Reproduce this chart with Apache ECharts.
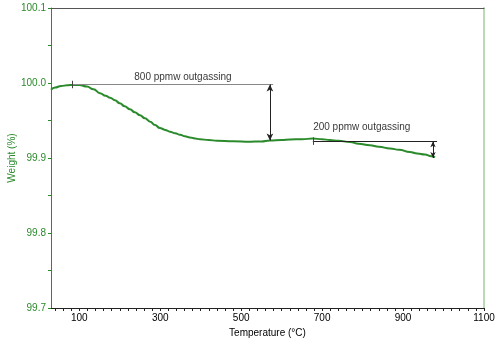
<!DOCTYPE html>
<html>
<head>
<meta charset="utf-8">
<script src="https://cdn.jsdelivr.net/npm/echarts@6/dist/echarts.min.js"></script>
<style>
html,body{margin:0;padding:0;background:#fff;}
#chart{width:500px;height:342px;}
</style>
</head>
<body>
<div id="chart"></div>
<script>
// Temperature (°C) and weight (%)
const temperatures = [30,40,55,70,84,100,119,135,151,165,176,188,200,212,225,237,250,262,275,287,299,312,324,337,349,361,373,386,398,420,440,480,522,550,571,600,621,650,677,700,719,740,769,790,818,840,868,890,917,935,954,970,979];
const weights = [99.991,99.994,99.996,99.997,99.9975,99.9975,99.9952,99.9916,99.9865,99.983,99.9805,99.977,99.973,99.969,99.965,99.961,99.957,99.953,99.9485,99.944,99.940,99.9375,99.935,99.933,99.931,99.929,99.9275,99.926,99.925,99.924,99.923,99.9223,99.9217,99.922,99.9233,99.924,99.9247,99.925,99.926,99.925,99.924,99.923,99.9213,99.919,99.917,99.915,99.9127,99.911,99.908,99.906,99.9047,99.9025,99.901];

const xTickValues = [];
for (let t = 40; t <= 1100; t += 20) xTickValues.push(t);
const xLabelValues = [100,300,500,700,900,1100];
const yLabelValues = [99.7,99.8,99.9,100.0,100.1];

// Annotations (data coordinates)
const ann800 = {startT: 83, endT: 579, arrowT: 571, top: 99.998, bottom: 99.9235, text: '800 ppmw outgassing', textT: 356, textW: 100.0075};
const ann200 = {startT: 677, endT: 984, arrowT: 974, top: 99.9225, bottom: 99.900, text: '200 ppmw outgassing', textT: 798, textW: 99.9415};

const green = '#2b8a2b';
const font = '"Liberation Sans", Arial, sans-serif';
const fs = 10;

const chart = echarts.init(document.getElementById('chart'), null, {renderer: 'canvas'});
chart.setOption({
  animation: false,
  backgroundColor: '#fff',
  grid: {left: 51, right: 16, top: 8, bottom: 34, containLabel: false, outerBoundsMode: 'none'},
  xAxis: [{
    type: 'value', min: 30, max: 1100, position: 'bottom',
    name: 'Temperature (°C)', nameLocation: 'middle', nameGap: 11,
    nameTextStyle: {color: '#000', fontSize: fs, fontFamily: font},
    axisLine: {show: true, lineStyle: {color: '#222', width: 1}},
    axisTick: {show: true, customValues: xTickValues, length: 3, inside: false, lineStyle: {color: '#222'}},
    axisLabel: {customValues: xLabelValues, color: '#000', fontSize: fs, fontFamily: font, margin: 5,
      formatter: v => String(v)},
    splitLine: {show: false}
  }, {
    type: 'value', min: 30, max: 1100, position: 'top',
    axisLine: {show: true, lineStyle: {color: '#555', width: 1}},
    axisTick: {show: false}, axisLabel: {show: false}, splitLine: {show: false}
  }],
  yAxis: [{
    type: 'value', min: 99.7, max: 100.1, interval: 0.05, position: 'left',
    name: 'Weight (%)', nameLocation: 'middle', nameGap: 34, nameRotate: 90, nameMoveOverlap: false,
    nameTextStyle: {color: green, fontSize: fs, fontFamily: font},
    axisLine: {show: true, lineStyle: {color: green, width: 1}},
    axisTick: {show: true, length: 3, lineStyle: {color: green}},
    axisLabel: {customValues: yLabelValues, color: green, fontSize: fs, fontFamily: font, margin: 5,
      formatter: v => Number(v).toFixed(1)},
    splitLine: {show: false}
  }, {
    type: 'value', min: 99.7, max: 100.1, position: 'right',
    axisLine: {show: true, lineStyle: {color: '#b9d9b9', width: 2}},
    axisTick: {show: false}, axisLabel: {show: false}, splitLine: {show: false}
  }],
  series: [{
    type: 'line',
    data: temperatures.map((t, i) => [t, weights[i]]),
    showSymbol: false,
    smooth: 0.5,
    smoothMonotone: 'x',
    lineStyle: {color: green, width: 2},
    z: 2,
    markLine: {
      silent: true, symbol: ['none', 'none'], label: {show: false},
      animation: false,
      data: [
        [{coord: [ann800.startT, ann800.top], lineStyle: {color: '#888', width: 1, type: 'solid'}}, {coord: [ann800.endT, ann800.top]}],
        [{coord: [ann800.startT, ann800.top + 0.005], lineStyle: {color: '#444', width: 1, type: 'solid'}}, {coord: [ann800.startT, ann800.top - 0.005]}],
        [{coord: [ann800.arrowT, ann800.top], symbol: 'arrow', symbolSize: [5, 7], lineStyle: {color: '#222', width: 1, type: 'solid'}}, {coord: [ann800.arrowT, ann800.bottom], symbol: 'arrow', symbolSize: [5, 7]}],
        [{coord: [ann200.startT, ann200.top], lineStyle: {color: '#222', width: 1, type: 'solid'}}, {coord: [ann200.endT, ann200.top]}],
        [{coord: [ann200.startT, ann200.top + 0.005], lineStyle: {color: '#444', width: 1, type: 'solid'}}, {coord: [ann200.startT, ann200.top - 0.005]}],
        [{coord: [ann200.arrowT, ann200.top], symbol: 'arrow', symbolSize: [4, 6], lineStyle: {color: '#222', width: 1, type: 'solid'}}, {coord: [ann200.arrowT, ann200.bottom], symbol: 'arrow', symbolSize: [4, 6]}]
      ]
    }
  }, {
    type: 'scatter',
    symbolSize: 0,
    silent: true,
    data: [[ann800.textT, ann800.textW, ann800.text], [ann200.textT, ann200.textW, ann200.text]],
    label: {show: true, position: 'inside', formatter: p => p.data[2], color: '#000', textBorderWidth: 0, fontSize: fs, fontFamily: font},
    z: 5
  }]
});
</script>
</body>
</html>
